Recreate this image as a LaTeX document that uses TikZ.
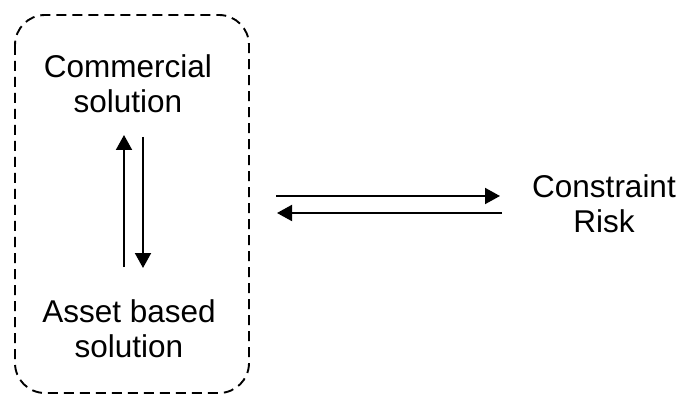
\documentclass[tikz,border=0pt]{standalone}
\usepackage{fontspec}
\setmainfont{Liberation Sans}
\usetikzlibrary{arrows.meta}
\begin{document}
\begin{tikzpicture}[x=1pt,y=-1pt,
  lbl/.style={inner sep=0pt,align=center,font=\fontsize{31.5}{35}\selectfont},
  arr/.style={line width=1.9pt,-{Triangle[length=15pt,width=16pt]}},
  group/.style={draw,line width=1.9pt,dash pattern=on 10pt off 6pt,rounded corners=30pt}]
\useasboundingbox (0,0) rectangle (680,398);
\draw[group] (15,15) rectangle (249,393);
\node[lbl] (com) at (128,84) {Commercial\\solution};
\node[lbl] (ass) at (129,329) {Asset based\\solution};
\node[lbl] (con) at (604,204) {Constraint\\Risk};
\coordinate (u1) at (124,267); \coordinate (u2) at (124,135);
\coordinate (d1) at (143,137); \coordinate (d2) at (143,268);
\coordinate (r1) at (276,196); \coordinate (r2) at (500,196);
\coordinate (l1) at (502,213); \coordinate (l2) at (277,213);
\draw[arr] (u1) -- (u2);
\draw[arr] (d1) -- (d2);
\draw[arr] (r1) -- (r2);
\draw[arr] (l1) -- (l2);
\end{tikzpicture}
\end{document}
